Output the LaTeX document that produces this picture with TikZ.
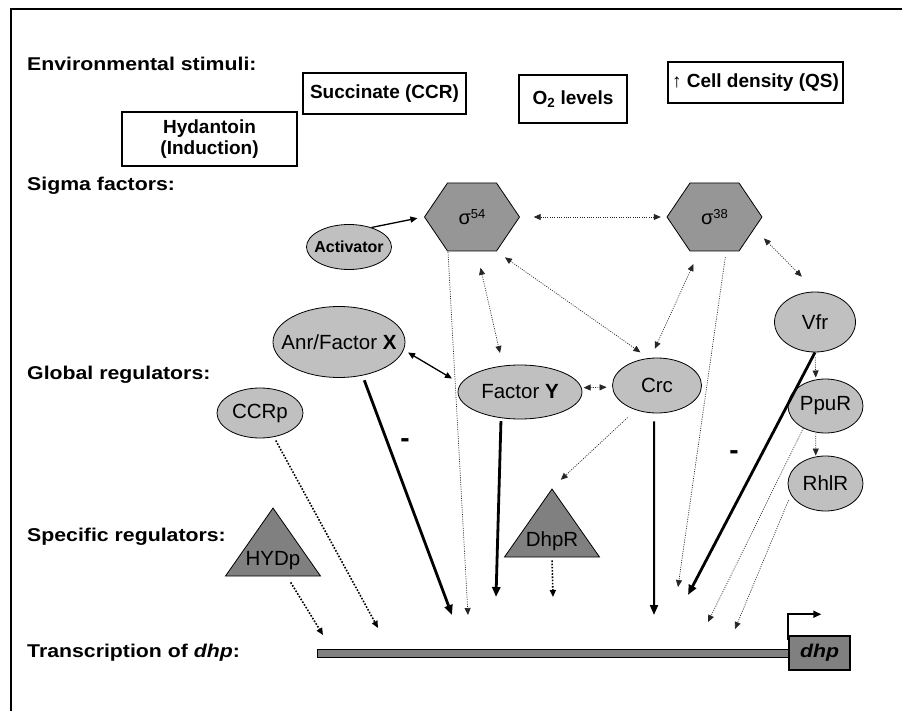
\documentclass[tikz,border=0pt]{standalone}
\usepackage{fontspec}
\setmainfont{Liberation Sans}
\newfontfamily\labelfont{Liberation Sans}[FakeStretch=1.15]
\usetikzlibrary{arrows.meta,shapes.geometric}

\definecolor{ellgray}{HTML}{C0C0C0}
\definecolor{hexgray}{HTML}{969696}
\definecolor{trigray}{HTML}{808080}

\newcommand{\sigsup}[1]{\raisebox{6pt}{\fontsize{13}{13}\selectfont #1}}

\begin{document}
\begin{tikzpicture}[
  x=1pt, y=-1pt,
  lbl/.style={anchor=base west, inner sep=0pt, font=\labelfont\fontsize{18.5}{21}\selectfont\bfseries},
  stim/.style={draw, line width=1.2pt, fill=white, align=center, inner sep=0pt, font=\fontsize{19}{20.5}\selectfont\bfseries},
  reg/.style={ellipse, draw, line width=0.8pt, fill=ellgray, inner xsep=-25pt, inner ysep=-5pt, font=\fontsize{20.5}{24}\selectfont},
  sigma/.style={minimum width=97pt, minimum height=70pt, inner sep=0pt, fill=white, font=\fontsize{20}{24}\selectfont,
    path picture={\draw[fill=hexgray, line width=0.8pt]
      ([xshift=1pt]path picture bounding box.west) -- ([xshift=24pt,yshift=-1pt]path picture bounding box.north west)
      -- ([xshift=-24pt,yshift=-1pt]path picture bounding box.north east) -- ([xshift=-1pt]path picture bounding box.east)
      -- ([xshift=-24pt,yshift=1pt]path picture bounding box.south east) -- ([xshift=24pt,yshift=1pt]path picture bounding box.south west)
      -- cycle;}},
  spec/.style={isosceles triangle, isosceles triangle stretches, shape border rotate=90, anchor=apex,
    minimum width=95pt, minimum height=68pt, inner sep=-8pt, draw, line width=0.8pt, fill=trigray, font=\fontsize{20.5}{24}\selectfont},
  genebar/.style={draw, line width=1pt, fill=trigray, inner sep=0pt, minimum width=472pt, minimum height=8pt},
  dhpbox/.style={draw, line width=1.5pt, fill=trigray, inner sep=0pt, minimum width=61pt, minimum height=34pt,
    font=\labelfont\fontsize{18.5}{21}\selectfont\bfseries\itshape},
  minus/.style={inner sep=0pt, font=\fontsize{28}{30}\selectfont\bfseries},
  faint/.style={line width=0.7pt, black!85, dash pattern=on 1pt off 1.3pt},
  dots/.style={line width=1.6pt, dash pattern=on 1.6pt off 1.6pt},
  push/.style={line width=1.3pt},
  medium/.style={line width=2pt},
  strong/.style={line width=2.8pt},
  >={Triangle[length=7pt,width=6pt]},
  big/.style={-{Triangle[length=10pt,width=8pt]}}
]
\useasboundingbox (0,0) rectangle (902,711);
\draw[line width=1.5pt] (11,711) -- (11,9) -- (902,9);

% row labels
\node[lbl] (envlbl) at (27,71) {Environmental stimuli:};
\node[lbl] (siglbl) at (27,191) {Sigma factors:};
\node[lbl] (globlbl) at (27,379) {Global regulators:};
\node[lbl] (speclbl) at (27,541) {Specific regulators:};
\node[lbl] (translbl) at (27,657) {Transcription of \textit{dhp}:};

% stimuli
\node[stim, minimum width=175pt, minimum height=54pt] (hyd) at (209.5,139) {Hydantoin\\(Induction)};
\node[stim, minimum width=163pt, minimum height=41pt] (succ) at (384.5,93.5) {Succinate (CCR)};
\node[stim, minimum width=108pt, minimum height=48pt] (otwo) at (573,99) {O\textsubscript{2} levels};
\node[stim, minimum width=175pt, minimum height=41pt] (cell) at (755.5,82.5) {{\mdseries ↑} Cell density (QS)};

% sigma factors
\node[sigma] (s54) at (472,217) {σ\sigsup{54}};
\node[sigma] (s38) at (714.5,217) {σ\sigsup{38}};
\node[reg, minimum width=85pt, minimum height=45pt, font=\fontsize{16}{18}\selectfont\bfseries] (act) at (349,247) {Activator};

% global regulators
\node[reg, minimum width=132pt, minimum height=71pt] (anr) at (339,342) {Anr/Factor \textbf{X}};
\node[reg, minimum width=86pt, minimum height=50pt] (ccrp) at (260,413) {CCRp};
\node[reg, minimum width=124pt, minimum height=54pt] (facy) at (520,392) {Factor \textbf{Y}};
\node[reg, minimum width=89pt, minimum height=55pt] (crc) at (657,385.5) {Crc};
\node[reg, minimum width=81pt, minimum height=60pt] (vfr) at (815,322) {Vfr};
\node[reg, minimum width=75pt, minimum height=54pt] (ppur) at (825.5,406) {PpuR};
\node[reg, minimum width=75pt, minimum height=55pt] (rhlr) at (825.5,483.5) {RhlR};

% specific regulators
\node[spec] (hydp) at (273,507) {HYDp};
\node[spec] (dhpr) at (552,488) {DhpR};

% gene
\node[genebar] (gene) at (553,653) {};
\node[dhpbox] (dhp) at (819.5,653) {dhp};
\draw[line width=1.8pt, -{Triangle[length=8pt,width=7pt]}] ([yshift=-5pt]dhp.north west) -- ++(0,-26) -- ++(33,0);

% ends at the promoter
\coordinate (hydEnd) at (323,635);
\coordinate (ccrEnd) at (378,628);
\coordinate (anrEnd) at (452,615);
\coordinate (s54End) at (468,615);
\coordinate (facyEnd) at (496,597);
\coordinate (dhpEnd) at (553,597);
\coordinate (crcEnd) at (654,615);
\coordinate (s38End) at (678,587);
\coordinate (vfrEnd) at (688,595);
\coordinate (ppurEnd) at (708,622);
\coordinate (rhlEnd) at (735,629);

% interactions
\draw[push, ->, shorten >=6pt] (act.41) -- (s54.west);
\draw[faint, <->, shorten <=13pt, shorten >=5pt] (s54.east) -- (s38.west);
\draw[faint, <->, shorten <=16pt, shorten >=13pt] (s54.-82) -- (facy.123);
\draw[faint, <->, shorten <=9pt, shorten >=10pt] (s54.-54) -- (crc.107);
\draw[faint, <->, shorten <=13pt, shorten >=10pt] (s38.-114) -- (crc.103);
\draw[faint, <->, shorten <=1pt, shorten >=21pt] (s38.-23) -- (vfr.87);
\draw[push, <->, shorten <=5pt, shorten >=10pt] (anr.-7.6) -- (facy.172);
\draw[faint, <->, shorten <=2pt, shorten >=5.6pt] (facy.4.7) -- (crc.182.6);
\draw[faint, ->, shorten <=5pt, shorten >=2pt] (vfr.south) -- (ppur.110);
\draw[faint, ->, shorten <=1pt, shorten >=1pt] (ppur.-110) -- (rhlr.110);
\draw[faint, ->, shorten <=11pt, shorten >=12pt] (crc.-131) -- (dhpr.apex);

% control of dhp
\draw[dots, ->, shorten <=7pt] ([xshift=14pt]hydp.lower side) -- (hydEnd);
\draw[dots, ->, shorten <=4pt] (ccrp.-60) -- (ccrEnd);
\draw[strong, big, shorten <=5pt] (anr.-55) -- (anrEnd);
\draw[faint, ->] ([xshift=-24pt]s54.south) -- (s54End);
\draw[strong, big, shorten <=3pt] (facy.-126.5) -- (facyEnd);
\draw[dots, ->, shorten <=3pt] (dhpr.lower side) -- (dhpEnd);
\draw[medium, big, shorten <=8pt] (crc.-96) -- (crcEnd);
\draw[faint, ->, shorten <=5pt] ([xshift=11.5pt]s38.south) -- (s38End);
\draw[strong, big] (vfr.south) -- (vfrEnd);
\draw[faint, ->] (ppur.-135.6) -- (ppurEnd);
\draw[faint, ->, shorten <=6pt] (rhlr.-162) -- (rhlEnd);

\node[minus] (anrmin) at (405,443) {-};
\node[minus] (vfrmin) at (734,455) {-};
\end{tikzpicture}
\end{document}
